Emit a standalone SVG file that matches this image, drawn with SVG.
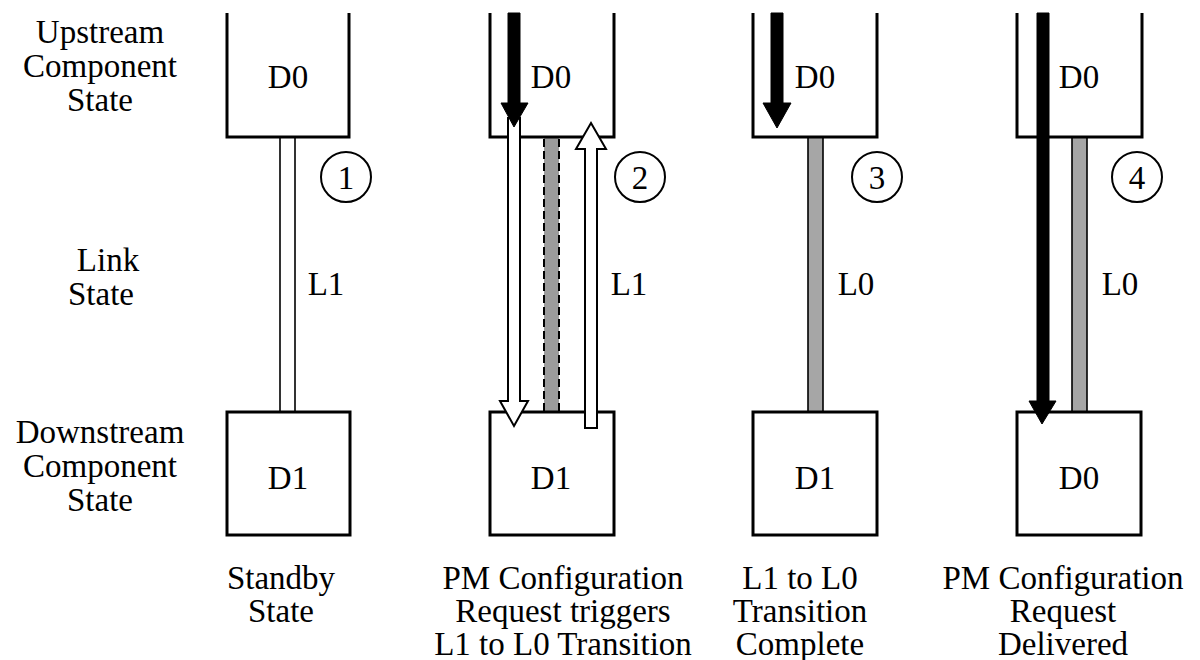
<svg xmlns="http://www.w3.org/2000/svg" width="1200" height="660" viewBox="0 0 1200 660">
<style>
text{font-family:"Liberation Serif","Times New Roman",serif;font-size:33px;fill:#000;text-anchor:middle}
.box{fill:none;stroke:#000;stroke-width:3}
.boxf{fill:#fff;stroke:#000;stroke-width:3}
.lnk{fill:#fff;stroke:#000;stroke-width:1.6}
.lnkg{fill:#a6a6a6;stroke:#000;stroke-width:1.6}
.dash{fill:none;stroke:#000;stroke-width:2;stroke-dasharray:8 4}
.blk{fill:#000;stroke:#000;stroke-width:1}
.wht{fill:#fff;stroke:#000;stroke-width:2;stroke-linejoin:miter}
.circ{fill:#fff;stroke:#000;stroke-width:2}
</style>

<g id="labels">
<text x="100" y="43">Upstream</text>
<text x="100" y="77">Component</text>
<text x="100" y="111">State</text>
<text x="108" y="271">Link</text>
<text x="101" y="305">State</text>
<text x="100" y="443">Downstream</text>
<text x="100" y="477">Component</text>
<text x="100" y="511">State</text>
</g>

<g id="connectors">
<rect class="lnk" x="280" y="137" width="15" height="275"/>
<rect x="544" y="137" width="15" height="275" fill="#9c9c9c"/>
<line class="dash" x1="544" y1="139" x2="544" y2="412"/>
<line class="dash" x1="559" y1="139" x2="559" y2="412"/>
<rect class="lnkg" x="808" y="137" width="15" height="275"/>
<rect class="lnkg" x="1072" y="137" width="15" height="275"/>
</g>

<g id="col1-upper"><path class="box" d="M227,13 V137 H349 V13"/><text x="288" y="88">D0</text></g>
<g id="col1-lower"><rect class="boxf" x="227" y="412" width="123" height="123"/><text x="288" y="489">D1</text></g>

<g id="col2-upper"><path class="box" d="M490,13 V137 H614 V13"/><text x="551" y="88">D0</text></g>
<g id="col2-lower"><rect class="boxf" x="490" y="412" width="124" height="123"/><text x="551" y="489">D1</text></g>

<g id="col3-upper"><path class="box" d="M753,13 V137 H877 V13"/><text x="815" y="88">D0</text></g>
<g id="col3-lower"><rect class="boxf" x="753" y="412" width="124" height="123"/><text x="815" y="489">D1</text></g>

<g id="col4-upper"><path class="box" d="M1017,13 V137 H1142 V13"/><text x="1079" y="88">D0</text></g>
<g id="col4-lower"><rect class="boxf" x="1017" y="412" width="124" height="123"/><text x="1079" y="489">D0</text></g>

<g id="arrows">
<polygon class="wht" points="508,118 520,118 520,401 528,401 514,426 500,401 508,401"/>
<polygon class="wht" points="585,428 597,428 597,149 606,149 591,123 576,149 585,149"/>
<polygon class="blk" points="508,13 520,13 520,103 528,103 514,127 501,103 508,103"/>
<polygon class="blk" points="771,13 783,13 783,103 791,103 777,128 763,103 771,103"/>
<polygon class="blk" points="1037,13 1049,13 1049,401 1056,401 1042,424 1029,401 1037,401"/>
</g>

<g id="step1"><circle class="circ" cx="346" cy="177" r="25"/><text x="346" y="189">1</text></g>
<g id="step2"><circle class="circ" cx="640" cy="177" r="25"/><text x="640" y="189">2</text></g>
<g id="step3"><circle class="circ" cx="877" cy="177" r="25"/><text x="877" y="189">3</text></g>
<g id="step4"><circle class="circ" cx="1137" cy="177" r="25"/><text x="1137" y="189">4</text></g>

<g id="link-labels">
<text x="326" y="295">L1</text>
<text x="629" y="295">L1</text>
<text x="856" y="295">L0</text>
<text x="1120" y="295">L0</text>
</g>

<g id="captions">
<text x="281" y="589">Standby</text>
<text x="281" y="622">State</text>
<text x="563" y="589">PM Configuration</text>
<text x="563" y="622">Request triggers</text>
<text x="563" y="655">L1 to L0 Transition</text>
<text x="800" y="589">L1 to L0</text>
<text x="800" y="622">Transition</text>
<text x="800" y="655">Complete</text>
<text x="1063" y="589">PM Configuration</text>
<text x="1063" y="622">Request</text>
<text x="1063" y="655">Delivered</text>
</g>
</svg>
